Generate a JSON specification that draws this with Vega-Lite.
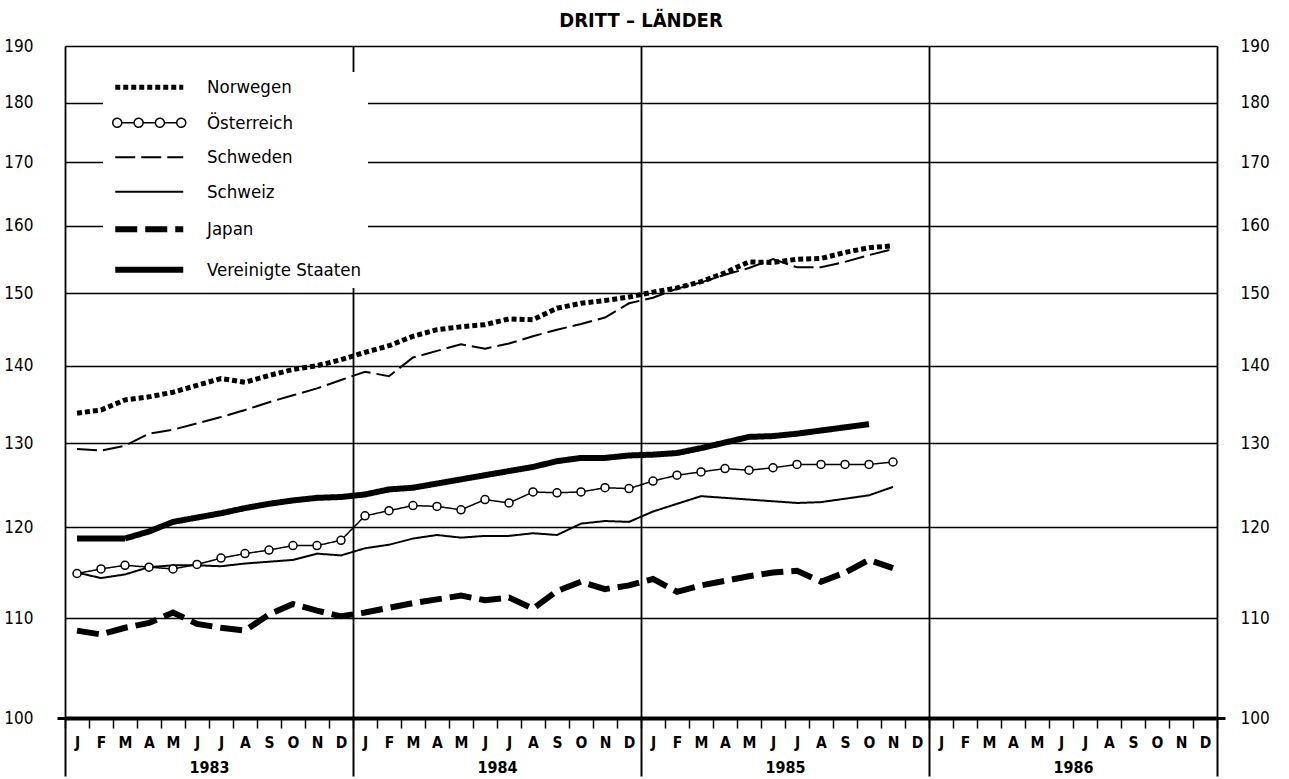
{
  "$schema": "https://vega.github.io/schema/vega-lite/v6.json",
  "autosize": "none",
  "width": 1152,
  "height": 672,
  "padding": {"left": 65, "top": 46, "right": 72, "bottom": 61},
  "background": "white",
  "title": {"text": "DRITT – LÄNDER", "anchor": "middle", "font": "DejaVu Sans Condensed", "fontSize": 20, "fontWeight": "bold", "color": "black", "offset": 6},
  "config": {"view": {"stroke": null}},
  "datasets": {
    "reihen": [
      {"land":"Norwegen","monat":0,"index":133.8},{"land":"Norwegen","monat":1,"index":134.2},{"land":"Norwegen","monat":2,"index":135.5},{"land":"Norwegen","monat":3,"index":135.9},{"land":"Norwegen","monat":4,"index":136.5},{"land":"Norwegen","monat":5,"index":137.4},{"land":"Norwegen","monat":6,"index":138.3},{"land":"Norwegen","monat":7,"index":137.8},{"land":"Norwegen","monat":8,"index":138.7},{"land":"Norwegen","monat":9,"index":139.5},{"land":"Norwegen","monat":10,"index":140.0},{"land":"Norwegen","monat":11,"index":140.8},
      {"land":"Norwegen","monat":12,"index":141.8},{"land":"Norwegen","monat":13,"index":142.7},{"land":"Norwegen","monat":14,"index":144.0},{"land":"Norwegen","monat":15,"index":144.9},{"land":"Norwegen","monat":16,"index":145.3},{"land":"Norwegen","monat":17,"index":145.6},{"land":"Norwegen","monat":18,"index":146.4},{"land":"Norwegen","monat":19,"index":146.3},{"land":"Norwegen","monat":20,"index":147.9},{"land":"Norwegen","monat":21,"index":148.6},{"land":"Norwegen","monat":22,"index":149.0},{"land":"Norwegen","monat":23,"index":149.5},
      {"land":"Norwegen","monat":24,"index":150.2},{"land":"Norwegen","monat":25,"index":150.8},{"land":"Norwegen","monat":26,"index":151.7},{"land":"Norwegen","monat":27,"index":153.0},{"land":"Norwegen","monat":28,"index":154.6},{"land":"Norwegen","monat":29,"index":154.5},{"land":"Norwegen","monat":30,"index":155.0},{"land":"Norwegen","monat":31,"index":155.1},{"land":"Norwegen","monat":32,"index":156.0},{"land":"Norwegen","monat":33,"index":156.7},{"land":"Norwegen","monat":34,"index":157.0},

      {"land":"Österreich","monat":0,"index":114.8},{"land":"Österreich","monat":1,"index":115.3},{"land":"Österreich","monat":2,"index":115.7},{"land":"Österreich","monat":3,"index":115.5},{"land":"Österreich","monat":4,"index":115.3},{"land":"Österreich","monat":5,"index":115.8},{"land":"Österreich","monat":6,"index":116.5},{"land":"Österreich","monat":7,"index":117.0},{"land":"Österreich","monat":8,"index":117.4},{"land":"Österreich","monat":9,"index":117.9},{"land":"Österreich","monat":10,"index":117.9},{"land":"Österreich","monat":11,"index":118.5},
      {"land":"Österreich","monat":12,"index":121.3},{"land":"Österreich","monat":13,"index":121.9},{"land":"Österreich","monat":14,"index":122.5},{"land":"Österreich","monat":15,"index":122.4},{"land":"Österreich","monat":16,"index":122.0},{"land":"Österreich","monat":17,"index":123.2},{"land":"Österreich","monat":18,"index":122.8},{"land":"Österreich","monat":19,"index":124.1},{"land":"Österreich","monat":20,"index":124.0},{"land":"Österreich","monat":21,"index":124.1},{"land":"Österreich","monat":22,"index":124.6},{"land":"Österreich","monat":23,"index":124.5},
      {"land":"Österreich","monat":24,"index":125.4},{"land":"Österreich","monat":25,"index":126.1},{"land":"Österreich","monat":26,"index":126.5},{"land":"Österreich","monat":27,"index":126.9},{"land":"Österreich","monat":28,"index":126.7},{"land":"Österreich","monat":29,"index":127.0},{"land":"Österreich","monat":30,"index":127.4},{"land":"Österreich","monat":31,"index":127.4},{"land":"Österreich","monat":32,"index":127.4},{"land":"Österreich","monat":33,"index":127.4},{"land":"Österreich","monat":34,"index":127.7},

      {"land":"Schweden","monat":0,"index":129.3},{"land":"Schweden","monat":1,"index":129.1},{"land":"Schweden","monat":2,"index":129.7},{"land":"Schweden","monat":3,"index":131.2},{"land":"Schweden","monat":4,"index":131.7},{"land":"Schweden","monat":5,"index":132.5},{"land":"Schweden","monat":6,"index":133.3},{"land":"Schweden","monat":7,"index":134.2},{"land":"Schweden","monat":8,"index":135.2},{"land":"Schweden","monat":9,"index":136.1},{"land":"Schweden","monat":10,"index":137.0},{"land":"Schweden","monat":11,"index":138.1},
      {"land":"Schweden","monat":12,"index":139.2},{"land":"Schweden","monat":13,"index":138.6},{"land":"Schweden","monat":14,"index":141.1},{"land":"Schweden","monat":15,"index":142.0},{"land":"Schweden","monat":16,"index":142.9},{"land":"Schweden","monat":17,"index":142.3},{"land":"Schweden","monat":18,"index":143.0},{"land":"Schweden","monat":19,"index":144.0},{"land":"Schweden","monat":20,"index":144.9},{"land":"Schweden","monat":21,"index":145.7},{"land":"Schweden","monat":22,"index":146.6},{"land":"Schweden","monat":23,"index":148.6},
      {"land":"Schweden","monat":24,"index":149.4},{"land":"Schweden","monat":25,"index":150.7},{"land":"Schweden","monat":26,"index":151.6},{"land":"Schweden","monat":27,"index":152.7},{"land":"Schweden","monat":28,"index":153.7},{"land":"Schweden","monat":29,"index":155.0},{"land":"Schweden","monat":30,"index":153.8},{"land":"Schweden","monat":31,"index":153.8},{"land":"Schweden","monat":32,"index":154.6},{"land":"Schweden","monat":33,"index":155.6},{"land":"Schweden","monat":34,"index":156.5},

      {"land":"Schweiz","monat":0,"index":114.9},{"land":"Schweiz","monat":1,"index":114.3},{"land":"Schweiz","monat":2,"index":114.7},{"land":"Schweiz","monat":3,"index":115.5},{"land":"Schweiz","monat":4,"index":115.7},{"land":"Schweiz","monat":5,"index":115.7},{"land":"Schweiz","monat":6,"index":115.6},{"land":"Schweiz","monat":7,"index":115.9},{"land":"Schweiz","monat":8,"index":116.1},{"land":"Schweiz","monat":9,"index":116.3},{"land":"Schweiz","monat":10,"index":117.0},{"land":"Schweiz","monat":11,"index":116.8},
      {"land":"Schweiz","monat":12,"index":117.6},{"land":"Schweiz","monat":13,"index":118.0},{"land":"Schweiz","monat":14,"index":118.7},{"land":"Schweiz","monat":15,"index":119.1},{"land":"Schweiz","monat":16,"index":118.8},{"land":"Schweiz","monat":17,"index":119.0},{"land":"Schweiz","monat":18,"index":119.0},{"land":"Schweiz","monat":19,"index":119.3},{"land":"Schweiz","monat":20,"index":119.1},{"land":"Schweiz","monat":21,"index":120.4},{"land":"Schweiz","monat":22,"index":120.7},{"land":"Schweiz","monat":23,"index":120.6},
      {"land":"Schweiz","monat":24,"index":121.8},{"land":"Schweiz","monat":25,"index":122.7},{"land":"Schweiz","monat":26,"index":123.6},{"land":"Schweiz","monat":27,"index":123.4},{"land":"Schweiz","monat":28,"index":123.2},{"land":"Schweiz","monat":29,"index":123.0},{"land":"Schweiz","monat":30,"index":122.8},{"land":"Schweiz","monat":31,"index":122.9},{"land":"Schweiz","monat":32,"index":123.3},{"land":"Schweiz","monat":33,"index":123.7},{"land":"Schweiz","monat":34,"index":124.7},

      {"land":"Japan","monat":0,"index":108.7},{"land":"Japan","monat":1,"index":108.3},{"land":"Japan","monat":2,"index":109.0},{"land":"Japan","monat":3,"index":109.5},{"land":"Japan","monat":4,"index":110.6},{"land":"Japan","monat":5,"index":109.4},{"land":"Japan","monat":6,"index":109.0},{"land":"Japan","monat":7,"index":108.7},{"land":"Japan","monat":8,"index":110.4},{"land":"Japan","monat":9,"index":111.5},{"land":"Japan","monat":10,"index":110.8},{"land":"Japan","monat":11,"index":110.2},
      {"land":"Japan","monat":12,"index":110.6},{"land":"Japan","monat":13,"index":111.1},{"land":"Japan","monat":14,"index":111.6},{"land":"Japan","monat":15,"index":112.0},{"land":"Japan","monat":16,"index":112.4},{"land":"Japan","monat":17,"index":111.9},{"land":"Japan","monat":18,"index":112.2},{"land":"Japan","monat":19,"index":111.0},{"land":"Japan","monat":20,"index":112.9},{"land":"Japan","monat":21,"index":113.9},{"land":"Japan","monat":22,"index":113.1},{"land":"Japan","monat":23,"index":113.5},
      {"land":"Japan","monat":24,"index":114.2},{"land":"Japan","monat":25,"index":112.8},{"land":"Japan","monat":26,"index":113.5},{"land":"Japan","monat":27,"index":114.0},{"land":"Japan","monat":28,"index":114.5},{"land":"Japan","monat":29,"index":114.9},{"land":"Japan","monat":30,"index":115.1},{"land":"Japan","monat":31,"index":113.9},{"land":"Japan","monat":32,"index":114.9},{"land":"Japan","monat":33,"index":116.3},{"land":"Japan","monat":34,"index":115.4},

      {"land":"Vereinigte Staaten","monat":0,"index":118.7},{"land":"Vereinigte Staaten","monat":1,"index":118.7},{"land":"Vereinigte Staaten","monat":2,"index":118.7},{"land":"Vereinigte Staaten","monat":3,"index":119.5},{"land":"Vereinigte Staaten","monat":4,"index":120.6},{"land":"Vereinigte Staaten","monat":5,"index":121.1},{"land":"Vereinigte Staaten","monat":6,"index":121.6},{"land":"Vereinigte Staaten","monat":7,"index":122.2},{"land":"Vereinigte Staaten","monat":8,"index":122.7},{"land":"Vereinigte Staaten","monat":9,"index":123.1},{"land":"Vereinigte Staaten","monat":10,"index":123.4},{"land":"Vereinigte Staaten","monat":11,"index":123.5},
      {"land":"Vereinigte Staaten","monat":12,"index":123.8},{"land":"Vereinigte Staaten","monat":13,"index":124.4},{"land":"Vereinigte Staaten","monat":14,"index":124.6},{"land":"Vereinigte Staaten","monat":15,"index":125.1},{"land":"Vereinigte Staaten","monat":16,"index":125.6},{"land":"Vereinigte Staaten","monat":17,"index":126.1},{"land":"Vereinigte Staaten","monat":18,"index":126.6},{"land":"Vereinigte Staaten","monat":19,"index":127.1},{"land":"Vereinigte Staaten","monat":20,"index":127.8},{"land":"Vereinigte Staaten","monat":21,"index":128.2},{"land":"Vereinigte Staaten","monat":22,"index":128.2},{"land":"Vereinigte Staaten","monat":23,"index":128.5},
      {"land":"Vereinigte Staaten","monat":24,"index":128.6},{"land":"Vereinigte Staaten","monat":25,"index":128.8},{"land":"Vereinigte Staaten","monat":26,"index":129.4},{"land":"Vereinigte Staaten","monat":27,"index":130.1},{"land":"Vereinigte Staaten","monat":28,"index":130.8},{"land":"Vereinigte Staaten","monat":29,"index":130.9},{"land":"Vereinigte Staaten","monat":30,"index":131.2},{"land":"Vereinigte Staaten","monat":31,"index":131.6},{"land":"Vereinigte Staaten","monat":32,"index":132.0},{"land":"Vereinigte Staaten","monat":33,"index":132.4}
    ]
  },
  "data": {"name": "reihen"},
  "resolve": {"axis": {"x": "independent", "y": "independent"}},
  "layer": [
    {
      "mark": {"type": "line", "color": "black", "strokeCap": "butt"},
      "encoding": {
        "x": {
          "field": "monat", "type": "quantitative",
          "scale": {"domain": [-0.5, 47.5], "nice": false, "zero": false},
          "axis": {
            "orient": "bottom", "title": null,
            "values": [-0.5,0.5,1.5,2.5,3.5,4.5,5.5,6.5,7.5,8.5,9.5,10.5,11.5,12.5,13.5,14.5,15.5,16.5,17.5,18.5,19.5,20.5,21.5,22.5,23.5,24.5,25.5,26.5,27.5,28.5,29.5,30.5,31.5,32.5,33.5,34.5,35.5,36.5,37.5,38.5,39.5,40.5,41.5,42.5,43.5,44.5,45.5,46.5,47.5],
            "labelExpr": "datum.value < 47 ? ['J','F','M','A','M','J','J','A','S','O','N','D'][round(datum.value + 0.5) % 12] : ''",
            "labelOffset": 12, "labelFlush": false, "labelOverlap": false, "labelBound": false,
            "labelPadding": 7, "labelBaseline": "top",
            "labelFont": "DejaVu Sans Condensed", "labelFontSize": 15.5, "labelFontWeight": "bold", "labelColor": "black",
            "ticks": true, "tickSize": 10, "tickWidth": 1.5, "tickColor": "black",
            "domain": true, "domainColor": "black", "domainWidth": 4,
            "grid": true, "gridWidth": 1.8,
            "gridColor": {"condition": {"test": "round(datum.value + 0.5) % 12 === 0", "value": "black"}, "value": "transparent"}
          }
        },
        "y": {
          "field": "index", "type": "quantitative",
          "scale": {"type": "log", "domain": [100, 190], "nice": false, "zero": false},
          "axis": {
            "orient": "left", "title": null,
            "values": [100,110,120,130,140,150,160,170,180,190], "format": "d",
            "grid": true, "gridColor": "black", "gridWidth": 1.5,
            "domain": false,
            "ticks": true, "tickSize": 8, "tickWidth": 3,
            "tickColor": {"condition": {"test": "datum.value === 100", "value": "black"}, "value": "transparent"},
            "labelPadding": 24, "labelFont": "DejaVu Sans Condensed", "labelFontSize": 17, "labelColor": "black"
          }
        },
        "strokeDash": {
          "field": "land", "type": "nominal",
          "scale": {
            "domain": ["Norwegen","Österreich","Schweden","Schweiz","Japan","Vereinigte Staaten"],
            "range": [[5,3],[1,0],[20,6],[1,0],[22,8],[1,0]]
          },
          "legend": {
            "title": null, "orient": "none", "legendX": 38, "legendY": 26,
            "fillColor": "white", "strokeColor": null,
            "padding": 6, "rowPadding": 15.5,
            "symbolSize": 100, "symbolOffset": 31, "labelOffset": 48.5,
            "symbolFillColor": "white", "symbolStrokeColor": "black",
            "labelFont": "DejaVu Sans Condensed", "labelFontSize": 18.5, "labelColor": "black", "labelLimit": 400
          }
        },
        "strokeWidth": {
          "field": "land", "type": "nominal",
          "scale": {
            "type": "ordinal",
            "domain": ["Norwegen","Österreich","Schweden","Schweiz","Japan","Vereinigte Staaten"],
            "range": [5,1.5,2,2,6,6]
          }
        }
      }
    },
    {
      "transform": [{"filter": "datum.land === 'Österreich'"}],
      "mark": {"type": "point", "shape": "circle", "filled": true, "fill": "white", "stroke": "black", "strokeWidth": 1.5, "size": 64, "opacity": 1},
      "encoding": {
        "x": {
          "field": "monat", "type": "quantitative",
          "scale": {"domain": [-0.5, 47.5], "nice": false, "zero": false},
          "axis": {
            "orient": "bottom", "title": null,
            "values": [-0.5, 11.5, 23.5, 35.5, 47.5],
            "labelExpr": "datum.value < 47 ? '' + (1983 + round((datum.value + 0.5) / 12)) : ''",
            "labelOffset": 144, "labelFlush": false, "labelOverlap": false, "labelBound": false,
            "labelPadding": -17, "labelBaseline": "top",
            "labelFont": "DejaVu Sans Condensed", "labelFontSize": 16, "labelFontWeight": "bold", "labelColor": "black",
            "ticks": true, "tickSize": 58, "tickWidth": 2, "tickColor": "black",
            "domain": false, "grid": false
          }
        },
        "y": {
          "field": "index", "type": "quantitative",
          "scale": {"type": "log", "domain": [100, 190], "nice": false, "zero": false},
          "axis": {
            "orient": "right", "title": null,
            "values": [100,110,120,130,140,150,160,170,180,190], "format": "d",
            "grid": false, "domain": false,
            "ticks": true, "tickSize": 8, "tickWidth": 3,
            "tickColor": {"condition": {"test": "datum.value === 100", "value": "black"}, "value": "transparent"},
            "labelPadding": 15, "labelFont": "DejaVu Sans Condensed", "labelFontSize": 17, "labelColor": "black"
          }
        }
      }
    },
    {
      "transform": [{"filter": "datum.index < 0"}],
      "mark": {"type": "point", "filled": false},
      "encoding": {
        "shape": {
          "field": "land", "type": "nominal",
          "scale": {
            "domain": ["Norwegen","Österreich","Schweden","Schweiz","Japan","Vereinigte Staaten"],
            "range": [
              "M-6.8,0H6.8",
              "M-7.3,0a0.9,0.9 0 1,0 1.8,0a0.9,0.9 0 1,0 -1.8,0M-3.03,0a0.9,0.9 0 1,0 1.8,0a0.9,0.9 0 1,0 -1.8,0M1.23,0a0.9,0.9 0 1,0 1.8,0a0.9,0.9 0 1,0 -1.8,0M5.5,0a0.9,0.9 0 1,0 1.8,0a0.9,0.9 0 1,0 -1.8,0M-5.5,0H-3.03M-1.23,0H1.23M3.03,0H5.5",
              "M-6.8,0H6.8",
              "M-6.8,0H6.8",
              "M-6.8,0H6.8",
              "M-6.8,0H6.8"
            ]
          },
          "legend": {"title": null}
        }
      }
    }
  ]
}
